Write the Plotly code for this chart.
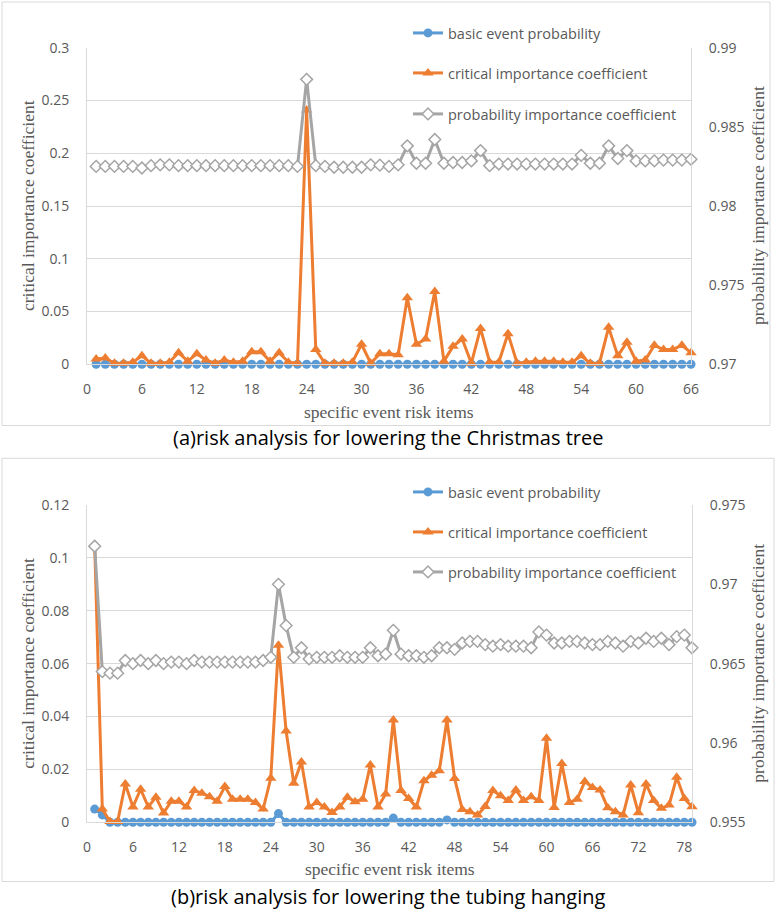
import plotly.graph_objects as go

# ---------------- data: chart (a) ----------------
items_a = list(range(1, 67))
basic_a = [0, 0, 0, 0, 0, 0, 0, 0, 0, 0, 0, 0, 0, 0, 0, 0, 0, 0, 0, 0, 0, 0,
           0, 0, 0, 0, 0, 0, 0, 0, 0, 0, 0, 0, 0, 0, 0, 0, 0, 0, 0, 0, 0, 0,
           0, 0, 0, 0, 0, 0, 0, 0, 0, 0, 0, 0, 0, 0, 0, 0, 0, 0, 0, 0, 0, 0]
critical_a = [0.005, 0.006, 0.001, 0.001, 0.002, 0.008, 0.001, 0.001, 0.002, 0.011,
              0.003, 0.010, 0.004, 0.001, 0.004, 0.002, 0.003, 0.012, 0.012, 0.003,
              0.011, 0.002, 0.001, 0.241, 0.014, 0.001, 0.001, 0.001, 0.002, 0.019,
              0.001, 0.010, 0.010, 0.009, 0.063, 0.019, 0.024, 0.069, 0.003, 0.017,
              0.024, 0.001, 0.034, 0.002, 0.002, 0.029, 0.001, 0.002, 0.003, 0.003,
              0.003, 0.002, 0.002, 0.008, 0.001, 0.001, 0.035, 0.008, 0.021, 0.003,
              0.004, 0.018, 0.014, 0.014, 0.018, 0.011]
prob_a = [0.9825, 0.9825, 0.9825, 0.9825, 0.9825, 0.9824, 0.98255, 0.9826, 0.9826, 0.98255,
          0.98255, 0.98255, 0.98255, 0.98255, 0.98255, 0.98255, 0.98255, 0.98255, 0.98255, 0.98255,
          0.98255, 0.98255, 0.9825, 0.9880, 0.98255, 0.9825, 0.98245, 0.98245, 0.98245, 0.98245,
          0.9826, 0.98258, 0.9825, 0.9826, 0.9838, 0.9827, 0.9827, 0.9842, 0.9827, 0.98275,
          0.98275, 0.98285, 0.9835, 0.98255, 0.98265, 0.98265, 0.98265, 0.98265, 0.98265, 0.98265,
          0.98265, 0.98265, 0.98265, 0.9832, 0.9827, 0.9827, 0.9838, 0.9830, 0.9835, 0.98285,
          0.98285, 0.98285, 0.9829, 0.9829, 0.9829, 0.98295]

# ---------------- data: chart (b) ----------------
items_b = list(range(1, 80))
basic_b = [0.005, 0.0028, 0, 0, 0, 0, 0, 0, 0, 0, 0, 0, 0, 0, 0, 0, 0, 0, 0, 0,
           0, 0, 0, 0, 0.0033, 0, 0, 0, 0, 0, 0, 0, 0, 0, 0, 0, 0, 0, 0, 0.0016,
           0, 0, 0, 0, 0, 0, 0.0009, 0, 0, 0, 0, 0, 0, 0, 0, 0, 0, 0, 0, 0,
           0, 0, 0, 0, 0, 0, 0, 0, 0, 0, 0, 0, 0, 0, 0, 0, 0, 0, 0]
critical_b = [0.105, 0.005, 0.0003, 0.0003, 0.0145, 0.0058, 0.0125, 0.0058, 0.0095, 0.0035,
              0.008, 0.008, 0.0058, 0.012, 0.011, 0.0097, 0.008, 0.0135, 0.0087, 0.0087,
              0.0087, 0.0075, 0.005, 0.0167, 0.067, 0.0345, 0.0148, 0.0228, 0.0058, 0.0075,
              0.0058, 0.0037, 0.0058, 0.0095, 0.0078, 0.0087, 0.0217, 0.0058, 0.0107, 0.0387,
              0.012, 0.009, 0.0058, 0.0157, 0.0178, 0.0195, 0.0387, 0.0166, 0.0048, 0.004,
              0.0028, 0.006, 0.012, 0.010, 0.0082, 0.0122, 0.0082, 0.0097, 0.0082, 0.0318,
              0.0056, 0.0222, 0.0075, 0.0087, 0.0154, 0.0132, 0.0122, 0.0055, 0.004, 0.0028,
              0.0141, 0.0036, 0.0145, 0.0082, 0.0053, 0.0065, 0.017, 0.009, 0.0059]
prob_b = [0.9724, 0.9645, 0.9644, 0.9644, 0.9652, 0.9650, 0.9652, 0.9650, 0.9652, 0.9650,
          0.9651, 0.9651, 0.9650, 0.9652, 0.9651, 0.9651, 0.9651, 0.9651, 0.9651, 0.9651,
          0.9651, 0.9651, 0.9652, 0.9654, 0.9700, 0.9674, 0.9654, 0.9660, 0.9653, 0.9654,
          0.9654, 0.9654, 0.9655, 0.9654, 0.9654, 0.9654, 0.9660, 0.9655, 0.9656, 0.9671,
          0.9656, 0.9655, 0.9655, 0.9654, 0.9655, 0.9660, 0.9660, 0.9659, 0.9663, 0.9664,
          0.9664, 0.9662, 0.9661, 0.9662, 0.9661, 0.9661, 0.9661, 0.9660, 0.9670, 0.9668,
          0.9663, 0.9663, 0.9664, 0.9664, 0.9663, 0.9662, 0.9662, 0.9664, 0.9663, 0.9661,
          0.9664, 0.9663, 0.9666, 0.9664, 0.9666, 0.9662, 0.9667, 0.9668, 0.9660]

series_names = ["basic event probability", "critical importance coefficient",
                "probability importance coefficient"]
captions = ["(a)risk analysis for lowering the Christmas tree",
            "(b)risk analysis for lowering the tubing hanging"]
left_title = "critical importance coefficient"
right_title = "probability importance coefficient"
x_title = "specific event risk items"

# ---------------- styling ----------------
W, H = 776, 913
BLUE, ORANGE, GRAY = "#5B9BD5", "#ED7D31", "#A5A5A5"
TXT = "#595959"
GRID = "#D9D9D9"
SANS = "Open Sans"
SERIF = "Liberation Serif"


def px(x):
    return x / W


def py(y):
    return 1 - y / H


fig = go.Figure()


def add_series(xs, basic, crit, prob, xa, ya, ya2, legs):
    fig.add_trace(go.Scatter(
        x=xs, y=basic, name=series_names[0], mode="lines+markers",
        line=dict(color=BLUE, width=3), marker=dict(symbol="circle", size=9, color=BLUE),
        xaxis=xa, yaxis=ya, legend=legs[0], cliponaxis=False))
    fig.add_trace(go.Scatter(
        x=xs, y=crit, name=series_names[1], mode="lines+markers",
        line=dict(color=ORANGE, width=3), marker=dict(symbol="triangle-up", size=10, color=ORANGE),
        xaxis=xa, yaxis=ya, legend=legs[1], cliponaxis=False))
    fig.add_trace(go.Scatter(
        x=xs, y=prob, name=series_names[2], mode="lines+markers",
        line=dict(color=GRAY, width=3),
        marker=dict(symbol="diamond", size=9, color="white", line=dict(color=GRAY, width=1.5)),
        xaxis=xa, yaxis=ya2, legend=legs[2], cliponaxis=False))


add_series(items_a, basic_a, critical_a, prob_a, "x", "y", "y2", ["legend", "legend2", "legend3"])
add_series(items_b, basic_b, critical_b, prob_b, "x3", "y3", "y4", ["legend4", "legend5", "legend6"])

tickfont = dict(family=SANS, size=14, color=TXT)
xcommon = dict(showgrid=False, showline=True, linecolor=GRID, linewidth=1, zeroline=False,
               tickmode="linear", tick0=0, dtick=6, ticks="", tickfont=tickfont,
               ticklabelstandoff=12)
ycommon = dict(showline=True, linecolor=GRID, linewidth=1, zeroline=False, ticks="",
               tickfont=tickfont, tickmode="linear", tick0=0, ticklabelstandoff=14)

# geometry (pixels)
a_top, a_bot = 47.7, 364.3
b_top, b_bot = 505.0, 822.3
xl, xr_a, xr_b = 87.0, 691.0, 692.0

legend_rows_a = [33, 73, 114]
legend_rows_b = [492, 532, 572]
legend_x = 408

layout = dict(
    width=W, height=H, margin=dict(l=0, r=0, t=0, b=0, pad=0, autoexpand=False),
    paper_bgcolor="white", plot_bgcolor="white", showlegend=True,
    xaxis=dict(domain=[px(xl), px(xr_a)], anchor="y", range=[0, 66], **xcommon),
    yaxis=dict(domain=[py(a_bot), py(a_top)], anchor="x", range=[0, 0.3], dtick=0.05,
               showgrid=True, gridcolor=GRID, **ycommon),
    yaxis2=dict(overlaying="y", side="right", anchor="x", range=[0.97, 0.99], dtick=0.005,
                showgrid=False, **ycommon),
    xaxis3=dict(domain=[px(xl), px(xr_b)], anchor="y3", range=[0, 79], **xcommon),
    yaxis3=dict(domain=[py(b_bot), py(b_top)], anchor="x3", range=[0, 0.12], dtick=0.02,
                showgrid=True, gridcolor=GRID, **ycommon),
    yaxis4=dict(overlaying="y3", side="right", anchor="x3", range=[0.955, 0.975], dtick=0.005,
                showgrid=False, **ycommon),
)
leg_names = ["legend", "legend2", "legend3", "legend4", "legend5", "legend6"]
rows = legend_rows_a + legend_rows_b
for name, row in zip(leg_names, rows):
    layout[name] = dict(x=px(legend_x), xanchor="left", y=py(row), yanchor="middle",
                        bgcolor="rgba(0,0,0,0)", borderwidth=0,
                        font=dict(family=SANS, size=14.5, color=TXT))
fig.update_layout(**layout)

# outer borders
fig.add_shape(type="rect", xref="paper", yref="paper", x0=px(2), x1=px(770), y0=py(425.5), y1=py(2),
              line=dict(color=GRID, width=1), layer="below")
fig.add_shape(type="rect", xref="paper", yref="paper", x0=px(2), x1=px(774), y0=py(881.5), y1=py(458.3),
              line=dict(color=GRID, width=1), layer="below")

serif = dict(family=SERIF, size=17.5, color=TXT)
for top, bot, xr, xt_y, cap_y, cap in [(a_top, a_bot, xr_a, 412, 438, captions[0]),
                                       (b_top, b_bot, xr_b, 869, 896, captions[1])]:
    mid = (top + bot) / 2
    fig.add_annotation(text=left_title, x=px(28), y=py(mid), xref="paper", yref="paper",
                       textangle=-90, showarrow=False, font=serif, xanchor="center", yanchor="middle")
    fig.add_annotation(text=right_title, x=px(758), y=py(mid), xref="paper", yref="paper",
                       textangle=-90, showarrow=False, font=serif, xanchor="center", yanchor="middle")
    fig.add_annotation(text=x_title, x=px((xl + xr) / 2), y=py(xt_y), xref="paper", yref="paper",
                       showarrow=False, font=serif, xanchor="center", yanchor="middle")
    fig.add_annotation(text=cap, x=px(388), y=py(cap_y), xref="paper", yref="paper",
                       showarrow=False, font=dict(family=SANS, size=20, color="black"),
                       xanchor="center", yanchor="middle")

fig.write_html("out.html")
